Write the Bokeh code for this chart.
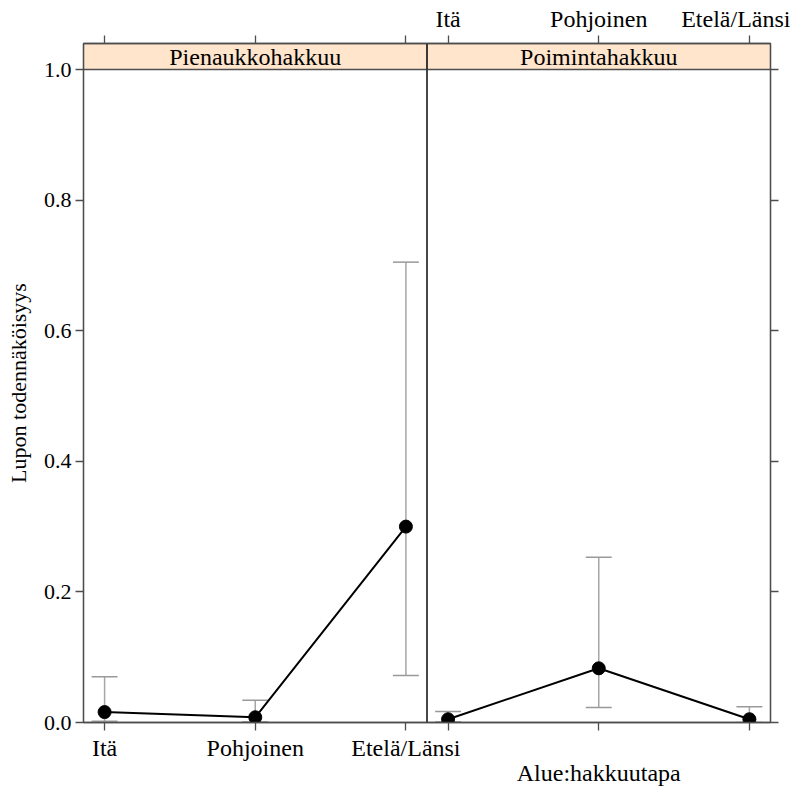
from bokeh.plotting import figure
from bokeh.models import (Range1d, LinearAxis, FixedTicker, Label, Span,
                          CustomJSTickFormatter, PrintfTickFormatter, ColumnDataSource)
from bokeh.embed import file_html
from bokeh.resources import INLINE

# ---- data ----
regions = ["Itä", "Pohjoinen", "Etelä/Länsi"]
panels = ["Pienaukkohakkuu", "Poimintahakkuu"]
fit_pien = [0.016, 0.008, 0.300]
low_pien = [0.002, 0.001, 0.072]
up_pien = [0.070, 0.034, 0.705]
fit_poim = [0.005, 0.083, 0.005]
low_poim = [0.001, 0.023, 0.000]
up_poim = [0.017, 0.253, 0.024]
y_ticks = [0.0, 0.2, 0.4, 0.6, 0.8, 1.0]
y_label = "Lupon todennäköisyys"
x_label = "Alue:hakkuutapa"

FONT = "Liberation Serif"
PAD = 0.14
W = len(regions) - 1 + 2 * PAD       # data width of one panel
STRIP = 26 / 653                      # strip height in data units
AX = "#4d4d4d"

p = figure(frame_width=687, frame_height=679, output_backend="svg", toolbar_location=None,
           x_range=Range1d(1 - PAD, 1 - PAD + 2 * W), y_range=Range1d(0, 1 + STRIP),
           min_border_left=83, min_border_top=43, min_border_right=20, min_border_bottom=50,
           x_axis_type=None, y_axis_type=None)
p.grid.visible = False
p.outline_line_color = AX
p.outline_line_width = 1.3
p.background_fill_color = "white"
p.border_fill_color = "white"

series = [(fit_pien, low_pien, up_pien), (fit_poim, low_poim, up_poim)]
all_pos = []
for k, (fit, low, up) in enumerate(series):
    off = k * W
    xs = [i + 1 + off for i in range(len(regions))]
    all_pos.extend(xs)
    left = 1 - PAD + off
    # strip
    p.quad(left=[left], right=[left + W], bottom=[1.0], top=[1 + STRIP],
           fill_color="#ffe5cc", line_color=AX, line_width=1.3)
    p.add_layout(Label(x=left + W / 2, y=1 + STRIP / 2, text=panels[k], text_font=FONT,
                       text_font_size="24px", text_align="center", text_baseline="middle",
                       text_color="black"))
    # error bars
    src = ColumnDataSource(dict(x=xs, fit=fit, low=low, up=up,
                                x0=[x - 0.086 for x in xs], x1=[x + 0.086 for x in xs]))
    p.segment(x0="x", y0="low", x1="x", y1="up", source=src, line_color="#a6a6a6", line_width=1.5)
    p.segment(x0="x0", y0="up", x1="x1", y1="up", source=src, line_color="#999999", line_width=1.5)
    p.segment(x0="x0", y0="low", x1="x1", y1="low", source=src, line_color="#999999", line_width=1.5)
    p.line(x="x", y="fit", source=src, line_color="black", line_width=2)
    p.scatter(x="x", y="fit", source=src, size=13, color="black")

# panel divider
p.add_layout(Span(location=1 - PAD + W, dimension="height", line_color="#333333", line_width=1.8))

def style(ax, size="24px"):
    ax.axis_line_color = AX
    ax.axis_line_width = 1.3
    ax.major_tick_line_color = AX
    ax.major_tick_line_width = 1.3
    ax.major_tick_in = 0
    ax.major_tick_out = 8
    ax.minor_tick_line_color = None
    ax.major_label_text_font = FONT
    ax.major_label_text_font_size = size
    ax.major_label_text_color = "black"
    ax.major_label_standoff = 4

# y axes
ly = LinearAxis(ticker=FixedTicker(ticks=y_ticks), formatter=PrintfTickFormatter(format="%.1f"),
                axis_label=y_label)
style(ly, "22px")
ly.axis_label_text_font = FONT
ly.axis_label_text_font_size = "22px"
ly.axis_label_text_font_style = "normal"
ly.axis_label_text_color = "black"
ly.axis_label_standoff = 10
p.add_layout(ly, "left")

ry = LinearAxis(ticker=FixedTicker(ticks=y_ticks),
                formatter=CustomJSTickFormatter(code="return '';"))
style(ry)
p.add_layout(ry, "right")

# x axes
bot_labels = regions + [""] * len(regions)
top_labels = [""] * len(regions) + regions
code = """
let i = -1;
for (let j = 0; j < pos.length; j++) { if (Math.abs(pos[j] - tick) < 1e-6) { i = j; } }
return i >= 0 ? labs[i] : '';
"""
bx = LinearAxis(ticker=FixedTicker(ticks=all_pos),
                formatter=CustomJSTickFormatter(args=dict(pos=all_pos, labs=bot_labels), code=code))
style(bx)
p.add_layout(bx, "below")

# x label centered under the second panel (an axis with a single unmarked tick)
lab_pos = [all_pos[len(regions) + 1]]
xl = LinearAxis(ticker=FixedTicker(ticks=lab_pos),
                formatter=CustomJSTickFormatter(args=dict(t=x_label), code="return t;"))
style(xl)
xl.axis_line_color = None
xl.major_tick_line_color = None
xl.major_tick_out = 0
xl.major_label_standoff = -4
p.add_layout(xl, "below")

tx = LinearAxis(ticker=FixedTicker(ticks=all_pos),
                formatter=CustomJSTickFormatter(args=dict(pos=all_pos, labs=top_labels), code=code))
style(tx)
p.add_layout(tx, "above")

open("out.html", "w").write(file_html(p, INLINE))
